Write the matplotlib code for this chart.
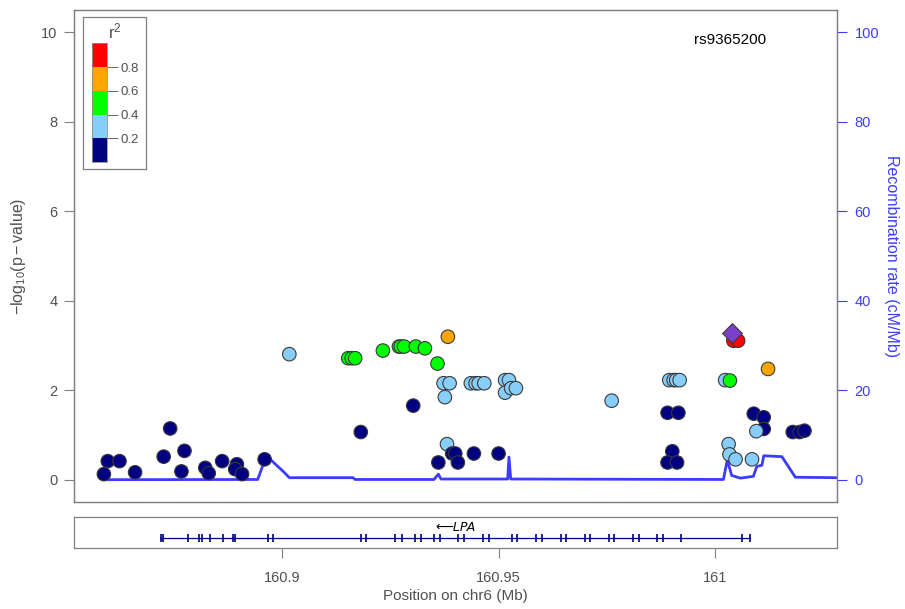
import matplotlib
matplotlib.use("Agg")
import matplotlib.pyplot as plt

plt.rcParams['font.family'] = ['Liberation Sans', 'DejaVu Sans']
plt.rcParams['mathtext.fontset'] = 'custom'
plt.rcParams['mathtext.rm'] = 'Liberation Sans'
plt.rcParams['mathtext.it'] = 'Liberation Sans:italic'

# ---------------- data ----------------
snp_pos = [160.8589, 160.8598, 160.8625, 160.8661, 160.8727, 160.8742, 160.8775, 160.8768,
           160.8823, 160.8831, 160.8862, 160.8896, 160.8892, 160.8908, 160.8960,
           160.9017,
           160.9153, 160.9161, 160.9169, 160.9233, 160.9270, 160.9274, 160.9282, 160.9309,
           160.9330, 160.9359,
           160.9383,
           160.9373, 160.9387, 160.9376, 160.9436, 160.9447, 160.9454, 160.9467,
           160.9515, 160.9524, 160.9515, 160.9529, 160.9540, 160.9381,
           160.9303, 160.9182, 160.9393, 160.9400, 160.9443, 160.9500, 160.9361, 160.9406,
           161.0042, 161.0053, 161.0122,
           160.9894, 160.9904, 160.9910, 160.9918, 161.0023, 161.0034, 160.9761,
           160.9890, 160.9915, 161.0089, 161.0112, 161.0112, 161.0095,
           161.0179, 161.0195, 161.0206,
           161.0031, 161.0033, 161.0047, 161.0085,
           160.9901, 160.9890, 160.9912]
snp_logp = [0.13, 0.42, 0.42, 0.17, 0.52, 1.15, 0.65, 0.19,
            0.27, 0.15, 0.42, 0.35, 0.24, 0.13, 0.46,
            2.81,
            2.72, 2.72, 2.72, 2.89, 2.98, 2.98, 2.98, 2.98,
            2.94, 2.60,
            3.20,
            2.16, 2.16, 1.85, 2.16, 2.16, 2.16, 2.16,
            2.23, 2.23, 1.95, 2.05, 2.05, 0.80,
            1.66, 1.07, 0.59, 0.59, 0.59, 0.59, 0.39, 0.39,
            3.11, 3.11, 2.48,
            2.23, 2.23, 2.23, 2.23, 2.23, 2.22, 1.77,
            1.50, 1.50, 1.48, 1.40, 1.14, 1.09,
            1.07, 1.07, 1.10,
            0.80, 0.57, 0.46, 0.46,
            0.64, 0.39, 0.39]
snp_r2 = [0.1, 0.1, 0.1, 0.1, 0.1, 0.1, 0.1, 0.1,
          0.1, 0.1, 0.1, 0.1, 0.1, 0.1, 0.1,
          0.3,
          0.5, 0.5, 0.5, 0.5, 0.5, 0.5, 0.5, 0.5,
          0.5, 0.5,
          0.7,
          0.3, 0.3, 0.3, 0.3, 0.3, 0.3, 0.3,
          0.3, 0.3, 0.3, 0.3, 0.3, 0.3,
          0.1, 0.1, 0.1, 0.1, 0.1, 0.1, 0.1, 0.1,
          0.9, 0.9, 0.7,
          0.3, 0.3, 0.3, 0.3, 0.3, 0.5, 0.3,
          0.1, 0.1, 0.1, 0.1, 0.1, 0.3,
          0.1, 0.1, 0.1,
          0.3, 0.3, 0.3, 0.3,
          0.1, 0.1, 0.1]

lead_snp = "rs9365200"
lead_pos = 161.0039
lead_logp = 3.29

recomb_pos = [160.8589, 160.8944, 160.8961, 160.8974, 160.9003, 160.9017, 160.9164, 160.9169,
              160.9351, 160.9361, 160.9367, 160.9521, 160.9524, 160.9528, 161.0019, 161.0028,
              161.0038, 161.0058, 161.0088, 161.0096, 161.0108, 161.0112, 161.0154, 161.0185,
              161.0279]
recomb_rate = [0.05, 0.1, 4.6, 4.5, 1.9, 0.5, 0.5, 0.1,
               0.1, 1.3, 0.2, 0.2, 5.1, 0.2, 0.1, 4.5,
               1.0, 0.4, 0.8, 3.0, 3.3, 5.4, 5.2, 0.6,
               0.5]

gene_name = "LPA"
gene_start = 160.8721
gene_end = 161.0081
exon_pos = [160.8721, 160.8726, 160.8783, 160.8808, 160.8816, 160.8833, 160.8863, 160.8887,
            160.8892, 160.8968, 160.8979, 160.9182, 160.9195, 160.9261, 160.9276, 160.9308,
            160.9322, 160.9352, 160.9365, 160.9406, 160.9421, 160.9464, 160.9478, 160.9530,
            160.9542, 160.9586, 160.9600, 160.9643, 160.9655, 160.9700, 160.9711, 160.9754,
            160.9767, 160.9810, 160.9824, 160.9865, 160.9879, 160.9921, 161.0061, 161.0081]

r2_bins = [0.0, 0.2, 0.4, 0.6, 0.8, 1.0]
r2_colors = ['#000080', '#87CEFA', '#00FF00', '#FFA500', '#FF0000']
r2_ticks = [0.2, 0.4, 0.6, 0.8]

x_ticks = [160.9, 160.95, 161.0]
x_ticklabels = ['160.9', '160.95', '161']
y_ticks = [0, 2, 4, 6, 8, 10]
y2_ticks = [0, 20, 40, 60, 80, 100]

# ---------------- styles ----------------
W, H = 905, 609
grey = '#808080'
txt = '#505050'
blue = '#3C3CFF'
fs = 10.5
lfs = 11.5

def r2_color(v):
    for i in range(len(r2_colors)):
        if r2_bins[i] <= v < r2_bins[i + 1]:
            return r2_colors[i]
    return r2_colors[-1]

fig = plt.figure(figsize=(W / 100, H / 100), dpi=100)

def fax(x0, y0, x1, y1):
    return fig.add_axes([x0 / W, 1 - y1 / H, (x1 - x0) / W, (y1 - y0) / H])

ax = fax(74, 10, 836.5, 502.3)
ax2 = ax.twinx()
xlim = (160.852, 161.028)
ax.set_xlim(*xlim)
ax.set_ylim(-0.5, 10.5)
ax2.set_ylim(-5, 105)

# recombination
ax2.plot(recomb_pos, recomb_rate, color=blue, lw=2, zorder=1)
ax.set_zorder(ax2.get_zorder() + 1)
ax.patch.set_visible(False)

# points
cols = [r2_color(v) for v in snp_r2]
ax.scatter(snp_pos, snp_logp, s=95, c=cols, edgecolors='#3a3a3a', linewidths=0.8, zorder=3)
ax.scatter([lead_pos], [lead_logp], s=100, marker='D', c='#7B3FCC', edgecolors='#3a3a3a',
           linewidths=0.8, zorder=4)
ax.text(161.0035, 9.82, lead_snp, fontsize=11, color='black', ha='center', va='center')

for a in (ax, ax2):
    for sp in a.spines.values():
        sp.set_color(grey)
        sp.set_linewidth(0.9)
ax.set_xticks([])
ax.set_yticks(y_ticks)
ax.tick_params(axis='y', direction='out', length=7, width=0.8, color=grey, labelcolor=txt,
               labelsize=fs, pad=5)
ax2.set_yticks(y2_ticks)
ax2.tick_params(axis='y', direction='out', length=7, width=0.8, color=blue, labelcolor=blue,
                labelsize=fs, pad=6)
ax.set_ylabel(r'$\mathrm{-log_{10}(p-value)}$', fontsize=lfs, color=txt, labelpad=9)
ax2.set_ylabel('Recombination rate (cM/Mb)', fontsize=lfs, color=blue, rotation=270,
               labelpad=14)

# gene track
gax = fax(74, 516.7, 836.5, 547.7)
gax.set_xlim(*xlim)
gax.set_ylim(0, 1)
gax.plot([gene_start, gene_end], [0.30, 0.30], color='#000080', lw=0.9)
gax.vlines(exon_pos, 0.17, 0.43, color='#000080', lw=1.2)
gene_mid = (gene_start + gene_end) / 2
gax.text(gene_mid, 0.66, '\u27f5' + gene_name, fontsize=9, style='italic',
         ha='center', va='center', color='black',
         family=['DejaVu Sans'])
for sp in gax.spines.values():
    sp.set_color(grey)
    sp.set_linewidth(0.9)
gax.set_yticks([])
gax.set_xticks(x_ticks)
gax.set_xticklabels(x_ticklabels)
gax.tick_params(axis='x', direction='out', length=7, width=0.8, color=grey, labelcolor=txt,
                labelsize=fs, pad=10)
gax.set_xlabel('Position on chr6 (Mb)', fontsize=11, color=txt, labelpad=3)

# legend box
lax = fax(82.7, 16.7, 146, 169)
lax.set_xticks([]); lax.set_yticks([])
lax.set_facecolor('white')
for sp in lax.spines.values():
    sp.set_color(grey)
    sp.set_linewidth(0.9)
lax.text(0.5, 0.905, r'$\mathrm{r^2}$', transform=lax.transAxes, ha='center', va='center',
         fontsize=12, color=txt)
lax.set_zorder(5)

cax = fax(91.7, 43.3, 106.7, 162)
cax.set_xlim(0, 1)
cax.set_ylim(0, 1)
for i, c in enumerate(r2_colors):
    cax.bar(0.5, r2_bins[i + 1] - r2_bins[i], bottom=r2_bins[i], width=1, color=c,
            edgecolor='none')
for sp in cax.spines.values():
    sp.set_color('#909090')
    sp.set_linewidth(0.6)
cax.set_xticks([])
cax.yaxis.tick_right()
cax.set_yticks(r2_ticks)
cax.set_yticklabels([f'{t:.1f}' for t in r2_ticks])
cax.tick_params(axis='y', direction='out', length=8, width=0.6, color=txt, labelcolor=txt,
                labelsize=9.5, pad=2)
cax.set_zorder(6)

fig.savefig('out.png', dpi=100)
